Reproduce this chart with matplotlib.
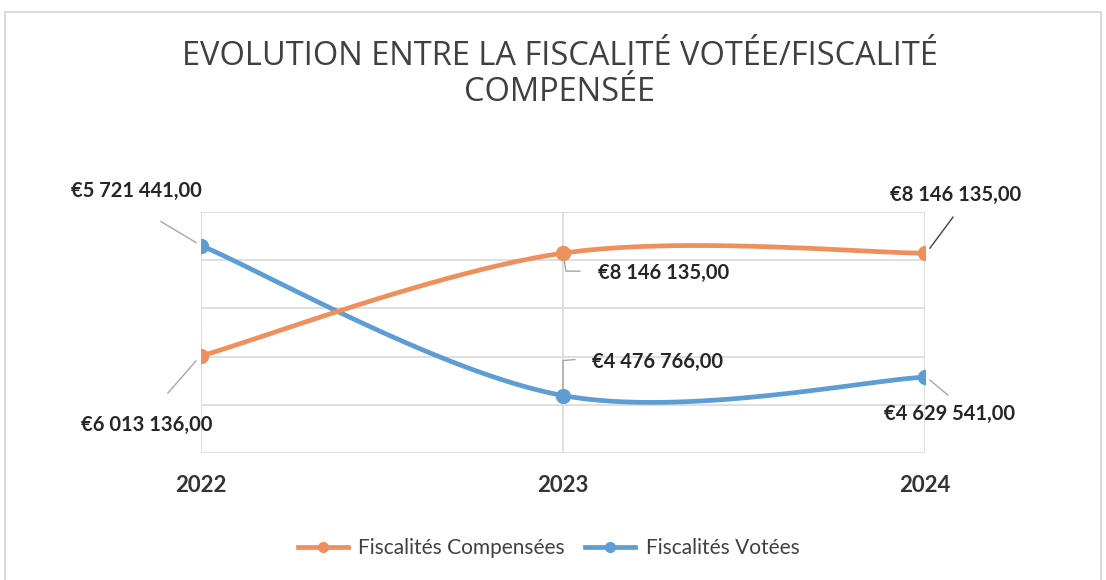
import numpy as np
import matplotlib
matplotlib.use("Agg")
import matplotlib.pyplot as plt
from matplotlib.lines import Line2D
from matplotlib.patches import Rectangle

years = ["2022", "2023", "2024"]
compensees = [6013136, 8146135, 8146135]
votees = [5721441, 4476766, 4629541]
labels_comp = ["€6 013 136,00", "€8 146 135,00", "€8 146 135,00"]
labels_vot = ["€5 721 441,00", "€4 476 766,00", "€4 629 541,00"]
title = "EVOLUTION ENTRE LA FISCALITÉ VOTÉE/FISCALITÉ\nCOMPENSÉE"
series_names = ["Fiscalités Compensées", "Fiscalités Votées"]

ORANGE = "#EF8F5C"
BLUE = "#5E9CD4"
FONT = "Lato"
plt.rcParams["font.family"] = [FONT, "DejaVu Sans"]

def smooth(x, y, n=40):
    pts = np.column_stack([x, y]).astype(float)
    out = [pts[0]]
    t = np.linspace(0, 1, n + 1)[1:, None]
    for i in range(len(pts) - 1):
        p0 = pts[i - 1] if i > 0 else pts[i]
        p1, p2 = pts[i], pts[i + 1]
        p3 = pts[i + 2] if i + 2 < len(pts) else pts[i + 1]
        c1 = p1 + (p2 - p0) / 6
        c2 = p2 - (p3 - p1) / 6
        seg = ((1 - t) ** 3) * p1 + 3 * ((1 - t) ** 2) * t * c1 + 3 * (1 - t) * t ** 2 * c2 + t ** 3 * p2
        out.extend(seg)
    out = np.array(out)
    return out[:, 0], out[:, 1]

fig = plt.figure(figsize=(11.06, 5.8), dpi=100)
fig.patch.set_facecolor("white")
fig.add_artist(Rectangle((0.0045, -0.01), 0.991, 0.989, transform=fig.transFigure,
                         fill=False, edgecolor="#d4d4d4", linewidth=1.2))

ax = fig.add_axes([0.1817, 0.219, 0.8363 - 0.1817, 0.6345 - 0.219])
ax2 = ax.twinx()
xs = np.arange(len(years))
N = 40

ax.set_xlim(0, 2)
ax.set_ylim(4000000, 6000000)
ax2.set_ylim(4000000, 9000000)
ax.set_yticks(np.linspace(4000000, 6000000, 6))
ax.set_xticks(xs)
ax.set_xticklabels(years, fontsize=16, fontweight="bold", color="#333333")
ax.tick_params(axis="x", length=0, pad=16)
ax.tick_params(axis="y", length=0, labelleft=False)
ax2.tick_params(axis="y", length=0, labelright=False)
for a in (ax, ax2):
    for s in a.spines.values():
        s.set_visible(False)
ax.grid(True, color="#d9d9d9", linewidth=1.2)
ax.set_axisbelow(True)

bx, by = smooth(xs, votees, N)
ox, oy = smooth(xs, compensees, N)
mk = [0, N, 2 * N]
ax.plot(bx, by, color=BLUE, lw=3.4, marker="o", markevery=mk, ms=10, solid_capstyle="round", zorder=3)
ax2.plot(ox, oy, color=ORANGE, lw=3.4, marker="o", markevery=mk, ms=10, solid_capstyle="round", zorder=3)

lab_kw = dict(fontsize=14.5, fontweight="bold", color="#262626", ha="center", va="center",
              textcoords="offset pixels", annotation_clip=False)

def leader(a, x, y, pts, color="#a6a6a6", lw=1.0):
    # pts: pixel offsets from the data point (y up)
    xy_disp = a.transData.transform((x, y))
    inv = fig.transFigure.inverted()
    pts_fig = [inv.transform((xy_disp[0] + p[0], xy_disp[1] + p[1])) for p in pts]
    fig.add_artist(Line2D([p[0] for p in pts_fig], [p[1] for p in pts_fig],
                          transform=fig.transFigure, color=color, lw=lw, zorder=2))

fig.canvas.draw()

# Votees labels
ax.annotate(labels_vot[0], (0, votees[0]), xytext=(-65, 55), **lab_kw)
leader(ax, 0, votees[0], [(-5, 3), (-40, 24)])
ax.annotate(labels_vot[1], (1, votees[1]), xytext=(95, 34), **lab_kw)
leader(ax, 1, votees[1], [(0, 7), (0, 35), (12, 36)])
ax.annotate(labels_vot[2], (2, votees[2]), xytext=(25, -37), **lab_kw)
leader(ax, 2, votees[2], [(5, -3), (23, -18)])

# Compensees labels
ax2.annotate(labels_comp[0], (0, compensees[0]), xytext=(-54, -69), **lab_kw)
leader(ax2, 0, compensees[0], [(-5, -5), (-33, -37)])
ax2.annotate(labels_comp[1], (1, compensees[1]), xytext=(101, -20), **lab_kw)
leader(ax2, 1, compensees[1], [(1, -5), (3, -18), (17, -18)])
ax2.annotate(labels_comp[2], (2, compensees[2]), xytext=(31, 58), **lab_kw)
leader(ax2, 2, compensees[2], [(5, 5), (28, 36)], color="#404040")

fig.text(0.506, 0.871, title, ha="center", va="center", fontsize=23.5, color="#404040",
         family=["Open Sans", "DejaVu Sans"], fontweight="medium",
         linespacing=1.12, multialignment="center")

handles = [Line2D([], [], color=ORANGE, lw=3.4, marker="o", ms=7),
           Line2D([], [], color=BLUE, lw=3.4, marker="o", ms=7)]
fig.legend(handles, series_names, loc="center left", bbox_to_anchor=(0.269, 0.055), ncol=2,
           frameon=False, fontsize=15, labelcolor="#404040", handlelength=2.4,
           handletextpad=0.5, columnspacing=1.0, borderpad=0, borderaxespad=0)

fig.savefig("out.png", dpi=100)
